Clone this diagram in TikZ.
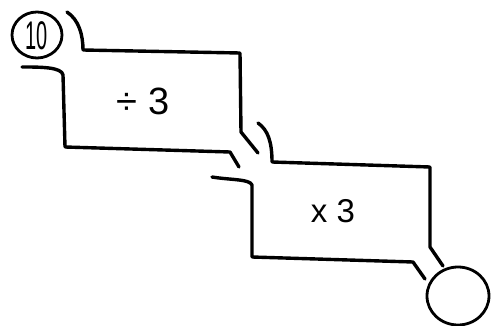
\documentclass[tikz,border=0pt]{standalone}
\usepackage{fontspec}
\setmainfont{Liberation Sans}
\usetikzlibrary{shapes.geometric}
\begin{document}
\begin{tikzpicture}[x=1pt,y=-1pt,
  stroke/.style={line width=3.4pt,line cap=round,line join=round,black},
  thinstroke/.style={line width=2.8pt,line cap=round,line join=round,black},
  label/.style={inner sep=0pt}]
\useasboundingbox (0,0) rectangle (491,326);
% input circle
\node[thinstroke,draw,ellipse,minimum width=50pt,minimum height=46pt,inner sep=0pt] (in) at (37,35) {};
\node[label,font=\fontsize{40}{40}\selectfont] (ten) at (37,36) {\scalebox{0.5}[1]{10}};
% output circle
\node[thinstroke,draw,ellipse,minimum width=62pt,minimum height=58pt,inner sep=0pt] (out) at (458,296) {};
% box 1 outline
\draw[stroke] (67,12) .. controls (79,20) and (83,35) .. (83,50) -- (240,53) -- (241,132) -- (258,153);
\draw[stroke] (22,67) .. controls (40,67) and (62,67) .. (63,75) -- (65,147) -- (230,152) -- (239,167);
% box 2 outline
\draw[stroke] (258,123) .. controls (268,130) and (272,142) .. (272,162) -- (430,167) -- (430,247) -- (443,266);
\draw[stroke] (212,177) .. controls (230,180) and (250,179) .. (252,185) -- (252,257) -- (413,262) -- (425,279);
% labels
\node[label,font=\fontsize{38}{38}\selectfont] (div) at (143,101) {÷ 3};
\node[label,font=\fontsize{33}{33}\selectfont] (mul) at (333,211) {x 3};
\end{tikzpicture}
\end{document}
